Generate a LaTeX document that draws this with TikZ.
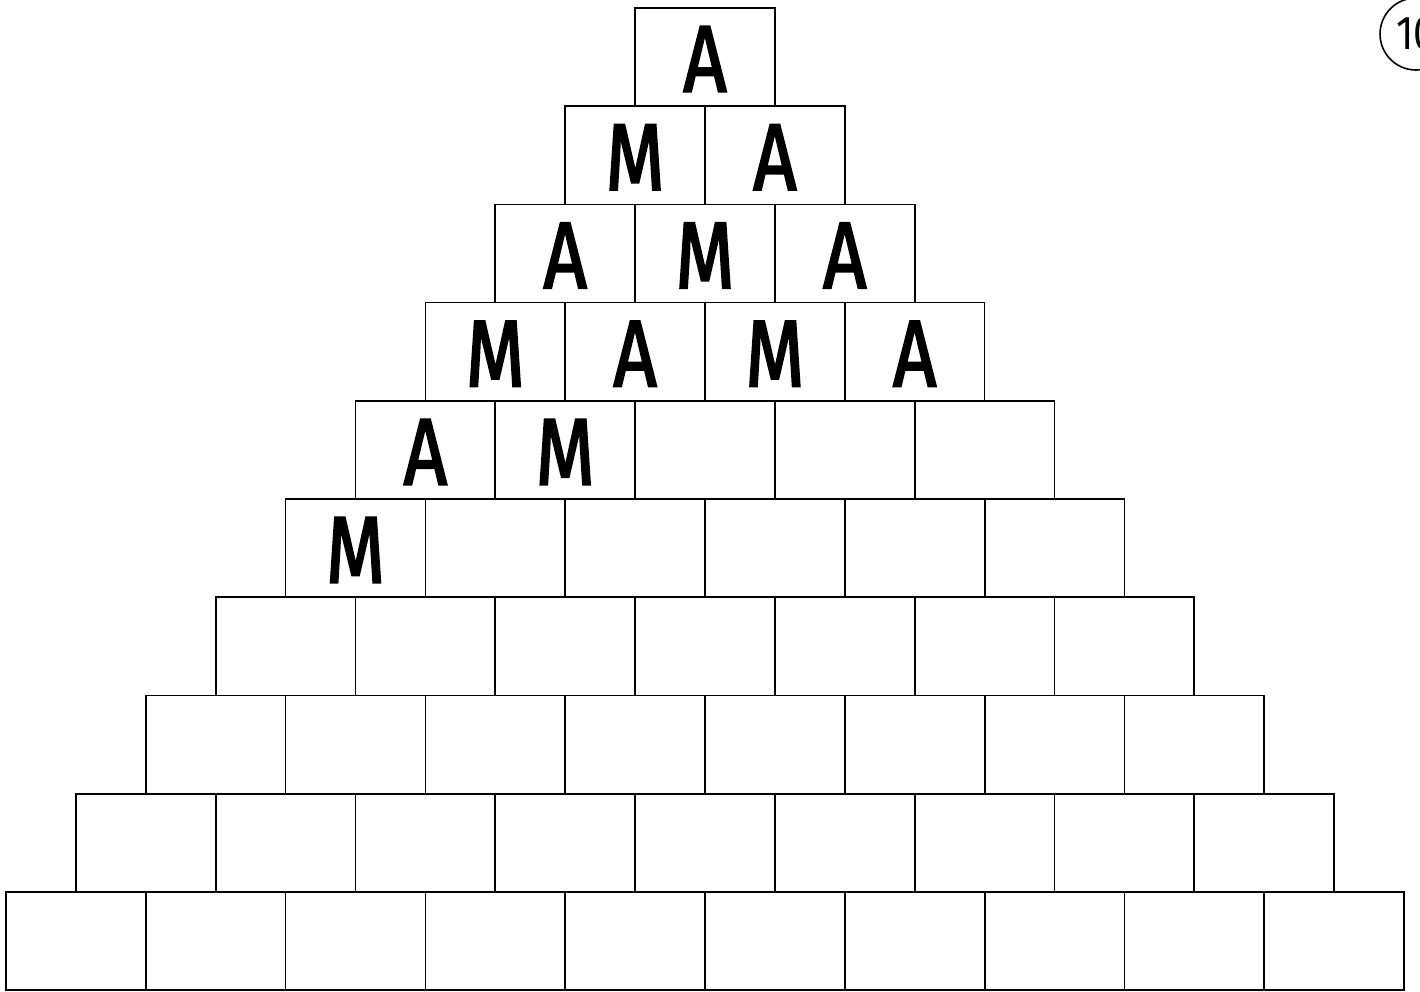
\documentclass[tikz,border=0pt]{standalone}
\usepackage{fontspec}
\setmainfont{Fira Sans}
\newfontfamily\boxfont[FakeStretch=0.8,FakeBold=2]{Fira Sans}
\usetikzlibrary{positioning}

\tikzset{
  cell/.style={draw=black,line width=1pt,minimum width=2.796cm,minimum height=1.964cm,
               inner sep=0pt,outer sep=0pt},
  letter/.style={font=\boxfont\fontsize{54}{54}\selectfont,inner sep=0pt},
  pagemark/.style={draw=black,line width=0.9pt,circle,minimum size=1.44cm,inner sep=0pt,
                   font=\fontsize{27}{27}\selectfont\addfontfeature{FakeStretch=0.85}}
}

\begin{document}
\begin{tikzpicture}[x=0.02cm,y=-0.02cm]
  \useasboundingbox (0,0) rectangle (1420,991);
  \clip (0,0) rectangle (1420,991);
  % pyramid of boxes, row r has r boxes
  \foreach \r in {1,...,10}{
    \foreach \i in {1,...,\r}{
      \node[cell] (b-\r-\i) at ({705-69.9*\r+139.8*(\i-0.5)},{8+98.2*(\r-0.5)}) {};
    }
  }
  % given letters
  \foreach \r/\i/\t in {1/1/A, 2/1/M, 2/2/A, 3/1/A, 3/2/M, 3/3/A,
                        4/1/M, 4/2/A, 4/3/M, 4/4/A, 5/1/A, 5/2/M, 6/1/M}{
    \node[letter] (l-\r-\i) at ([yshift=-0.04cm]b-\r-\i) {\t};
  }
  % page number
  \node[pagemark] (page) at (1416,34) {10};
\end{tikzpicture}
\end{document}
